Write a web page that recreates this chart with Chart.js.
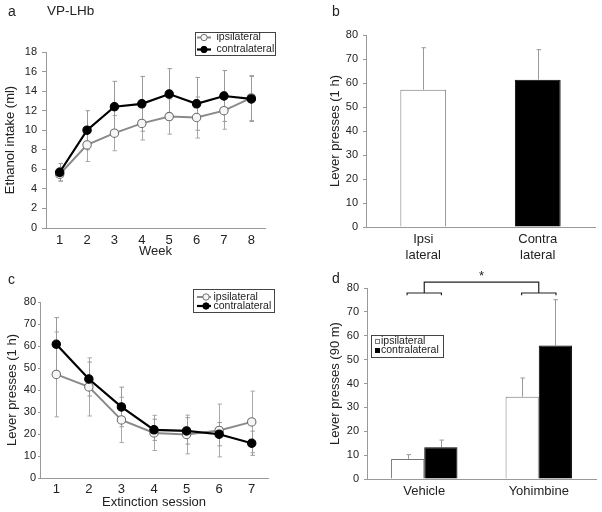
<!DOCTYPE html>
<html>
<head>
<meta charset="utf-8">
<script src="https://cdn.jsdelivr.net/npm/chart.js@4/dist/chart.umd.min.js"></script>
<style>
body { margin:0; background:#fff; width:602px; height:512px; position:relative; overflow:hidden; font-family:"Liberation Sans", Arial, sans-serif; }
.panel { position:absolute; }
.lbl { position:absolute; font-size:14px; color:#222; line-height:16px; }
</style>
</head>
<body>
<div class="panel" style="left:0;top:0;width:301px;height:262px"><canvas id="chartA"></canvas></div>
<div class="panel" style="left:301px;top:0;width:301px;height:272px"><canvas id="chartB"></canvas></div>
<div class="panel" style="left:0;top:256px;width:301px;height:256px"><canvas id="chartC"></canvas></div>
<div class="panel" style="left:301px;top:256px;width:301px;height:256px"><canvas id="chartD"></canvas></div>
<div class="lbl" style="left:8px;top:3px">a</div>
<div class="lbl" style="left:47px;top:3px;font-size:13.5px">VP-LHb</div>
<div class="lbl" style="left:332px;top:3px">b</div>
<div class="lbl" style="left:8px;top:271px">c</div>
<div class="lbl" style="left:332px;top:270px">d</div>
<script>
// panel a: weekly ethanol intake
const weeks = ['1', '2', '3', '4', '5', '6', '7', '8'];
const ipsiIntake = [5.5, 8.5, 9.7, 10.7, 11.4, 11.3, 12.0, 13.3];
const ipsiIntakeErr = [0.7, 1.7, 1.8, 1.7, 1.8, 2.1, 1.9, 2.3];
const contraIntake = [5.7, 10.0, 12.4, 12.7, 13.7, 12.7, 13.5, 13.2];
const contraIntakeErr = [0.9, 2.0, 2.6, 2.8, 2.6, 2.7, 2.6, 2.3];

// panel b: lever presses (1 h)
const sides = [['Ipsi', 'lateral'], ['Contra', 'lateral']];
const sidePresses = [57.2, 61.4];
const sidePressesErr = [17.5, 12.5];

// panel c: extinction
const sessions = ['1', '2', '3', '4', '5', '6', '7'];
const ipsiExt = [47.1, 41.4, 26.4, 20.5, 19.8, 21.6, 25.5];
const ipsiExtErr = [19.3, 13.2, 10.3, 8.0, 8.8, 12.0, 14.0];
const contraExt = [60.8, 45.0, 32.3, 21.9, 21.4, 19.9, 15.8];
const contraExtErr = [12.1, 7.7, 9.0, 4.8, 6.0, 5.3, 5.5];

// panel d: reinstatement (90 m)
const treatments = ['Vehicle', 'Yohimbine'];
const ipsiReinst = [8.4, 34.5];
const ipsiReinstErr = [1.8, 7.8];
const contraReinst = [13.3, 55.9];
const contraReinstErr = [3.0, 19.2];

const FONT = '"Liberation Sans", Arial, sans-serif';
Chart.defaults.font.family = FONT;
Chart.defaults.color = '#222';
Chart.defaults.animation = false;

// error bars drawn behind the marks, through the y scale
const errorBars = {
    id: 'errorBars',
    beforeDatasetsDraw(chart) {
        const ctx = chart.ctx;
        const y = chart.scales.y;
        chart.data.datasets.forEach((ds, i) => {
            if (!ds.errors) return;
            const meta = chart.getDatasetMeta(i);
            ctx.save();
            ctx.strokeStyle = ds.errorColor || '#999';
            ctx.lineWidth = 1;
            meta.data.forEach((el, j) => {
                const v = ds.data[j], e = ds.errors[j];
                const top = y.getPixelForValue(v + e);
                const bot = ds.errorUpOnly ? y.getPixelForValue(v) : y.getPixelForValue(v - e);
                const x = Math.round(el.x) + 0.5;
                ctx.beginPath();
                ctx.moveTo(x, top); ctx.lineTo(x, bot);
                ctx.moveTo(x - 2, top); ctx.lineTo(x + 2.5, top);
                if (!ds.errorUpOnly) { ctx.moveTo(x - 2, bot); ctx.lineTo(x + 2.5, bot); }
                ctx.stroke();
            });
            ctx.restore();
        });
    }
};

// boxed legend like the original figure
const boxLegend = {
    id: 'boxLegend',
    afterDraw(chart, args, o) {
        if (!o.items) return;
        const ctx = chart.ctx;
        ctx.save();
        ctx.strokeStyle = '#444';
        ctx.lineWidth = 1;
        ctx.strokeRect(o.x + 0.5, o.y + 0.5, o.w, o.h);
        ctx.font = o.fontSize + 'px ' + FONT;
        ctx.textBaseline = 'middle';
        o.items.forEach((idx, k) => {
            const ds = chart.data.datasets[idx];
            const cy = o.y + o.firstRow + k * o.rowGap;
            if (o.kind === 'line') {
                ctx.strokeStyle = ds.borderColor;
                ctx.lineWidth = ds.borderWidth;
                ctx.beginPath();
                ctx.moveTo(o.x + o.lineFrom, cy);
                ctx.lineTo(o.x + o.lineTo, cy);
                ctx.stroke();
                ctx.beginPath();
                ctx.arc(o.x + o.mark, cy, 3.2, 0, Math.PI * 2);
                ctx.fillStyle = ds.pointBackgroundColor;
                ctx.fill();
                ctx.lineWidth = 1;
                ctx.strokeStyle = ds.pointBorderColor;
                ctx.stroke();
            } else {
                ctx.fillStyle = ds.backgroundColor;
                ctx.fillRect(o.x + o.mark - 2, cy - 2.5, 5, 5);
                ctx.lineWidth = 1;
                ctx.strokeStyle = ds.borderColor;
                ctx.strokeRect(o.x + o.mark - 2 + 0.5, cy - 2.5 + 0.5, 4, 4);
            }
            ctx.fillStyle = '#222';
            ctx.fillText(ds.label, o.x + o.textX, cy);
        });
        ctx.restore();
    }
};

// significance bracket for panel d
const sigBracket = {
    id: 'sigBracket',
    afterDatasetsDraw(chart, args, o) {
        if (!o.armY) return;
        const ctx = chart.ctx, x = chart.scales.x, y = chart.scales.y;
        const step = x.getPixelForValue(1) - x.getPixelForValue(0);
        const arm = step * o.armFrac;
        const yArm = y.getPixelForValue(o.armY);
        const yEnd = y.getPixelForValue(o.armEndY);
        const yTop = y.getPixelForValue(o.topY);
        ctx.save();
        ctx.strokeStyle = '#222';
        ctx.lineWidth = 1.2;
        const cx = [];
        for (let i = 0; i < chart.data.labels.length; i++) {
            const c = x.getPixelForValue(i);
            cx.push(c);
            ctx.beginPath();
            ctx.moveTo(c - arm, yEnd);
            ctx.lineTo(c - arm, yArm);
            ctx.lineTo(c + arm, yArm);
            ctx.lineTo(c + arm, yEnd);
            ctx.stroke();
        }
        ctx.beginPath();
        ctx.moveTo(cx[0], yArm);
        ctx.lineTo(cx[0], yTop);
        ctx.lineTo(cx[cx.length - 1], yTop);
        ctx.lineTo(cx[cx.length - 1], yArm);
        ctx.stroke();
        ctx.fillStyle = '#222';
        ctx.font = '13px ' + FONT;
        ctx.textAlign = 'center';
        ctx.textBaseline = 'middle';
        ctx.fillText(o.mark, (cx[0] + cx[cx.length - 1]) / 2, y.getPixelForValue(o.markY) + 2);
        ctx.restore();
    }
};

function yAxis(max, step, title, width, titlePad, tickLen, tickPad) {
    return {
        min: 0, max: max,
        ticks: { stepSize: step, font: { size: 11 }, padding: tickPad, color: '#222' },
        grid: { drawOnChartArea: false, drawTicks: true, tickLength: tickLen, color: '#999' },
        border: { color: '#999', width: 1 },
        title: { display: true, text: title, font: { size: 13 }, padding: { top: titlePad, bottom: 0 }, color: '#222' },
        afterFit: s => { s.width = width; }
    };
}

function xAxis(title, height, tickPad) {
    return {
        offset: true,
        ticks: { font: { size: 13 }, padding: tickPad, color: '#222', maxRotation: 0, autoSkip: false },
        grid: { display: false, drawTicks: false },
        border: { color: '#999', width: 1 },
        title: { display: !!title, text: title, font: { size: 13 }, padding: { top: 0, bottom: 0 }, color: '#222' },
        afterFit: s => { s.height = height; }
    };
}

function lineSet(label, data, errors, open) {
    return {
        label: label,
        data: data,
        errors: errors,
        errorColor: open ? '#a8a8a8' : '#999',
        borderColor: open ? '#8a8a8a' : '#000',
        borderWidth: open ? 2 : 2.2,
        pointRadius: 4.2,
        pointBackgroundColor: open ? '#f6f6f6' : '#000',
        pointBorderColor: open ? '#707070' : '#000',
        pointBorderWidth: 1.1,
        tension: 0,
        order: open ? 1 : 0
    };
}

new Chart('chartA', {
    type: 'line',
    data: {
        labels: weeks,
        datasets: [
            lineSet('ipsilateral', ipsiIntake, ipsiIntakeErr, true),
            lineSet('contralateral', contraIntake, contraIntakeErr, false)
        ]
    },
    options: {
        responsive: true, maintainAspectRatio: false,
        layout: { padding: { top: 52, right: 36, bottom: 3, left: 0 } },
        scales: {
            x: xAxis('Week', 31, 5),
            y: yAxis(18, 2, 'Ethanol intake (ml)', 46, 3, 4, 5)
        },
        plugins: {
            legend: { display: false }, tooltip: { enabled: false },
            boxLegend: { items: [0, 1], kind: 'line', x: 195, y: 32, w: 80, h: 23, firstRow: 5.5, rowGap: 12, fontSize: 10.5, lineFrom: 2, lineTo: 16, mark: 9, textX: 21.5 }
        }
    },
    plugins: [errorBars, boxLegend]
});

new Chart('chartB', {
    type: 'bar',
    data: {
        labels: sides,
        datasets: [{
            label: 'Lever presses',
            data: sidePresses,
            errors: sidePressesErr,
            errorUpOnly: true,
            errorColor: '#999',
            backgroundColor: ['#fff', '#000'],
            borderColor: ['#777', '#000'],
            borderWidth: 1,
            barPercentage: 0.4,
            categoryPercentage: 1
        }]
    },
    options: {
        responsive: true, maintainAspectRatio: false,
        layout: { padding: { top: 35, right: 7, bottom: 5, left: 0 } },
        scales: {
            x: xAxis('', 40, 5),
            y: yAxis(80, 10, 'Lever presses (1 h)', 65, 27, 3, 5)
        },
        plugins: { legend: { display: false }, tooltip: { enabled: false } }
    },
    plugins: [errorBars]
});

new Chart('chartC', {
    type: 'line',
    data: {
        labels: sessions,
        datasets: [
            lineSet('ipsilateral', ipsiExt, ipsiExtErr, true),
            lineSet('contralateral', contraExt, contraExtErr, false)
        ]
    },
    options: {
        responsive: true, maintainAspectRatio: false,
        layout: { padding: { top: 46, right: 33, bottom: 2, left: 0 } },
        scales: {
            x: xAxis('Extinction session', 32, 4),
            y: yAxis(80, 10, 'Lever presses (1 h)', 40, 5, 2, 2)
        },
        plugins: {
            legend: { display: false }, tooltip: { enabled: false },
            boxLegend: { items: [0, 1], kind: 'line', x: 193, y: 33, w: 81, h: 23, firstRow: 8, rowGap: 9, fontSize: 10.5, lineFrom: 4, lineTo: 18, mark: 13, textX: 20.5 }
        }
    },
    plugins: [errorBars, boxLegend]
});

new Chart('chartD', {
    type: 'bar',
    data: {
        labels: treatments,
        datasets: [
            { label: 'ipsilateral', data: ipsiReinst, errors: ipsiReinstErr, errorUpOnly: true, errorColor: '#999',
              backgroundColor: '#fff', borderColor: '#777', borderWidth: 1 },
            { label: 'contralateral', data: contraReinst, errors: contraReinstErr, errorUpOnly: true, errorColor: '#999',
              backgroundColor: '#000', borderColor: '#000', borderWidth: 1 }
        ]
    },
    options: {
        responsive: true, maintainAspectRatio: false,
        datasets: { bar: { barPercentage: 1, categoryPercentage: 0.58 } },
        layout: { padding: { top: 32, right: 6, bottom: 2, left: 0 } },
        scales: {
            x: xAxis('', 31, 5),
            y: yAxis(80, 10, 'Lever presses (90 m)', 66, 27, 3, 5)
        },
        plugins: {
            legend: { display: false }, tooltip: { enabled: false },
            boxLegend: { items: [0, 1], kind: 'box', x: 70, y: 79, w: 72, h: 22, firstRow: 6.5, rowGap: 9, fontSize: 10.5, mark: 6, textX: 10 },
            sigBracket: { armFrac: 0.15, armY: 77.9, armEndY: 77.0, topY: 82.5, markY: 85.5, mark: '*' }
        }
    },
    plugins: [errorBars, boxLegend, sigBracket]
});
</script>
</body>
</html>
